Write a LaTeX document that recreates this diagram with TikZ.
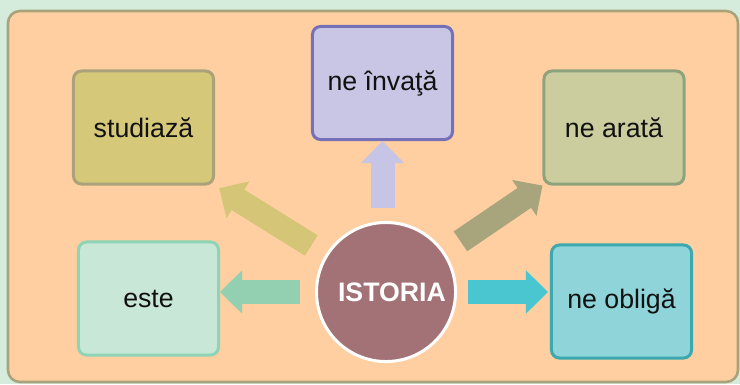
\documentclass[tikz,border=0pt]{standalone}
\usepackage{fontspec}
\setmainfont{Liberation Sans}
\usetikzlibrary{arrows.meta}

\definecolor{bgmint}{HTML}{D5EBDC}
\definecolor{panelfill}{HTML}{FFCFA1}
\definecolor{panelline}{HTML}{A9A37B}
\definecolor{txtdark}{HTML}{111111}
\definecolor{studfill}{HTML}{D6C879}
\definecolor{studline}{HTML}{A9A27A}
\definecolor{invfill}{HTML}{C8C5E5}
\definecolor{invline}{HTML}{7570B8}
\definecolor{aratfill}{HTML}{CBCD9F}
\definecolor{aratline}{HTML}{8EA27C}
\definecolor{estefill}{HTML}{C8E7D6}
\definecolor{esteline}{HTML}{8ED4B6}
\definecolor{oblfill}{HTML}{8ED4D9}
\definecolor{oblline}{HTML}{3CA9B0}
\definecolor{istfill}{HTML}{A27276}
\definecolor{yarrow}{HTML}{D4C577}
\definecolor{larrow}{HTML}{C7C5E5}
\definecolor{oarrow}{HTML}{A8A57D}
\definecolor{marrow}{HTML}{93D0B1}
\definecolor{carrow}{HTML}{49C6D0}

\begin{document}
\begin{tikzpicture}[x=0.025cm,y=-0.025cm,
  box/.style={draw,line width=0.075cm,rounded corners=0.2cm,
    minimum width=3.5cm,minimum height=2.825cm,
    font=\fontsize{19}{22}\selectfont,text=txtdark},
  fat/.style={line width=0.6cm,-{Triangle[width=1.05cm,length=0.55cm]}}]
  % Background and panel
  \fill[bgmint] (0,0) rectangle (740,384);
  \draw[panelline,fill=panelfill,line width=0.065cm,rounded corners=0.3cm]
    (8,11) rectangle (738,382);

  % Boxes
  \node[box,draw=studline,fill=studfill] (studiaza) at (143.5,127.5) {studiază};
  \node[box,draw=invline,fill=invfill] (invata) at (382.5,83) {ne învaţă};
  \node[box,draw=aratline,fill=aratfill] (arata) at (614,127.5) {ne arată};
  \node[box,draw=esteline,fill=estefill] (este) at (148.5,298.5) {este};
  \node[box,draw=oblline,fill=oblfill] (obliga) at (621.5,301.5) {ne obligă};

  % Centre
  \node[circle,fill=istfill,draw=white,line width=0.075cm,minimum size=3.475cm,
    text=white,font=\bfseries\fontsize{19}{22}\selectfont] (istoria) at (386,292) {\hspace{0.3cm}ISTORIA};

  % Arrows
  \draw[fat,yarrow,shorten <=0.425cm,shorten >=0.125cm] (istoria) -- (studiaza.south east);
  \draw[fat,larrow,shorten <=0.325cm] (istoria.north -| invata.south) -- (invata.south);
  \draw[fat,oarrow,shorten <=0.475cm] (istoria) -- (arata.south west);
  \draw[fat,marrow,shorten <=0.375cm] (istoria) -- (istoria -| este.east);
  \draw[fat,carrow,shorten <=0.275cm,shorten >=0.05cm] (istoria) -- (istoria -| obliga.west);
\end{tikzpicture}
\end{document}
